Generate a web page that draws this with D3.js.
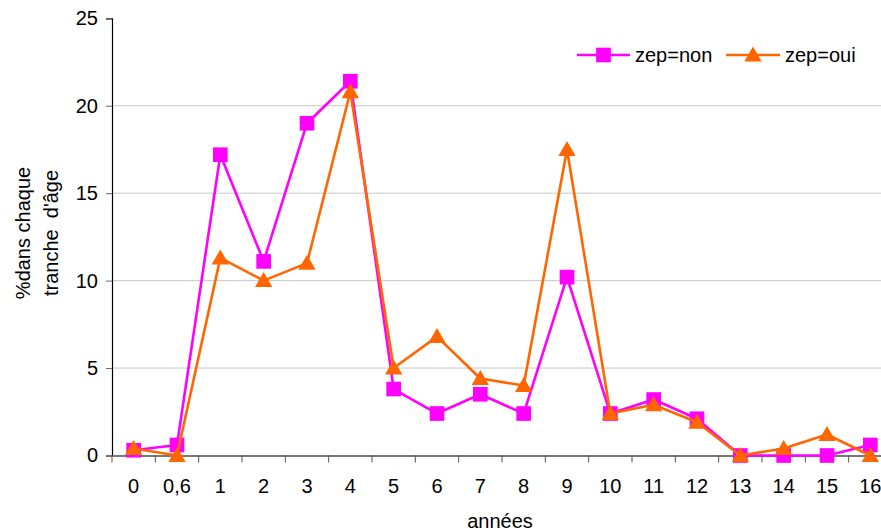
<!DOCTYPE html>
<html><head><meta charset="utf-8">
<script src="https://cdn.jsdelivr.net/npm/d3@7"></script>
<style>body{margin:0;background:#fff}svg{display:block;font-family:"Liberation Sans",Arial,sans-serif}</style>
</head><body>
<svg id="c" width="881" height="531"></svg>
<script>
const categories = ["0","0,6","1","2","3","4","5","6","7","8","9","10","11","12","13","14","15","16"];
const zepNon = [0.3,0.6,17.2,11.1,19.0,21.4,3.8,2.4,3.5,2.4,10.2,2.4,3.2,2.1,0,0,0,0.6];
const zepOui = [0.4,0,11.3,10.0,11.0,20.8,5.0,6.8,4.4,4.0,17.5,2.4,2.9,1.9,0,0.4,1.2,0];
const yTicks = [0,5,10,15,20,25];
const seriesNames = ["zep=non","zep=oui"];
const seriesColors = ["#FF00FF","#FF6600"];

(function(){
const FS = 20;
const svg = d3.select("#c");
const mL = 112, mR = 892, mT = 18.3, mB = 455.5;
const x = d3.scaleBand().domain(categories).range([mL, mR]);
const y = d3.scaleLinear().domain([0,25]).range([mB, mT]);

// gridlines
svg.append("g").selectAll("line").data(yTicks.filter(d=>d>0 && d<25)).join("line")
  .attr("x1", mL).attr("x2", 881).attr("y1", d=>y(d)).attr("y2", d=>y(d))
  .attr("stroke", "#c8c8c8").attr("stroke-width", 1);

// y axis
const ya = svg.append("g").attr("transform", `translate(${mL},0)`)
  .call(d3.axisLeft(y).tickValues(yTicks).tickSize(6).tickPadding(8).tickFormat(d3.format("d")));
ya.select(".domain").attr("stroke", "#000").attr("stroke-width", 1.2);
ya.selectAll(".tick line").attr("stroke", "#666");
ya.selectAll("text").attr("font-size", FS).attr("fill", "#000").style("font-family", "Liberation Sans, Arial, sans-serif");

// x axis
const xa = svg.append("g").attr("transform", `translate(0,${mB})`)
  .call(d3.axisBottom(x).tickSize(0).tickPadding(23));
xa.select(".domain").attr("stroke", "#777").attr("stroke-width", 2);
xa.selectAll("text").attr("font-size", FS).attr("fill", "#000").style("font-family", "Liberation Sans, Arial, sans-serif");
svg.append("g").selectAll("line").data(categories).join("line")
  .attr("x1", d=>x(d)).attr("x2", d=>x(d)).attr("y1", mB).attr("y2", mB+7)
  .attr("stroke", "#555").attr("stroke-width", 1);

const cx = d => x(d) + x.bandwidth()/2;
const data = [zepNon, zepOui];
data.forEach((vals, i) => {
  const pts = categories.map((c, j) => [cx(c), y(vals[j])]);
  svg.append("path").attr("d", d3.line()(pts)).attr("fill","none")
    .attr("stroke", seriesColors[i]).attr("stroke-width", 2.6).attr("stroke-linejoin","round");
  const sym = i === 0 ? d3.symbol(d3.symbolSquare, 215) : d3.symbol(d3.symbolTriangle, 130);
  svg.append("g").selectAll("path").data(pts).join("path")
    .attr("d", sym).attr("transform", d=>`translate(${d[0]},${d[1] + (i===1? 1.5:0)})`)
    .attr("fill", seriesColors[i]);
});

// legend
const leg = [{x1:577,x2:630,tx:635},{x1:726,x2:780,tx:785}];
leg.forEach((l, i) => {
  const g = svg.append("g");
  g.append("line").attr("x1", l.x1).attr("x2", l.x2).attr("y1", 55).attr("y2", 55)
    .attr("stroke", seriesColors[i]).attr("stroke-width", 2.6);
  const sym = i === 0 ? d3.symbol(d3.symbolSquare, 215) : d3.symbol(d3.symbolTriangle, 130);
  g.append("path").attr("d", sym).attr("transform", `translate(${(l.x1+l.x2)/2},${55 + (i===1?1.5:0)})`).attr("fill", seriesColors[i]);
  g.append("text").attr("x", l.tx).attr("y", 62).attr("font-size", FS).text(seriesNames[i]);
});

// axis titles
const yt = svg.append("text").attr("transform", "translate(0,233) rotate(-90)")
  .attr("text-anchor","middle").attr("font-size", FS);
yt.append("tspan").attr("x", 0).attr("y", 30).text("%dans chaque");
yt.append("tspan").attr("x", 0).attr("y", 58).attr("xml:space","preserve").text("tranche  d'âge");
svg.append("text").attr("x", 500).attr("y", 528).attr("text-anchor","middle").attr("font-size", FS).text("années");
})();
</script>
</body></html>
